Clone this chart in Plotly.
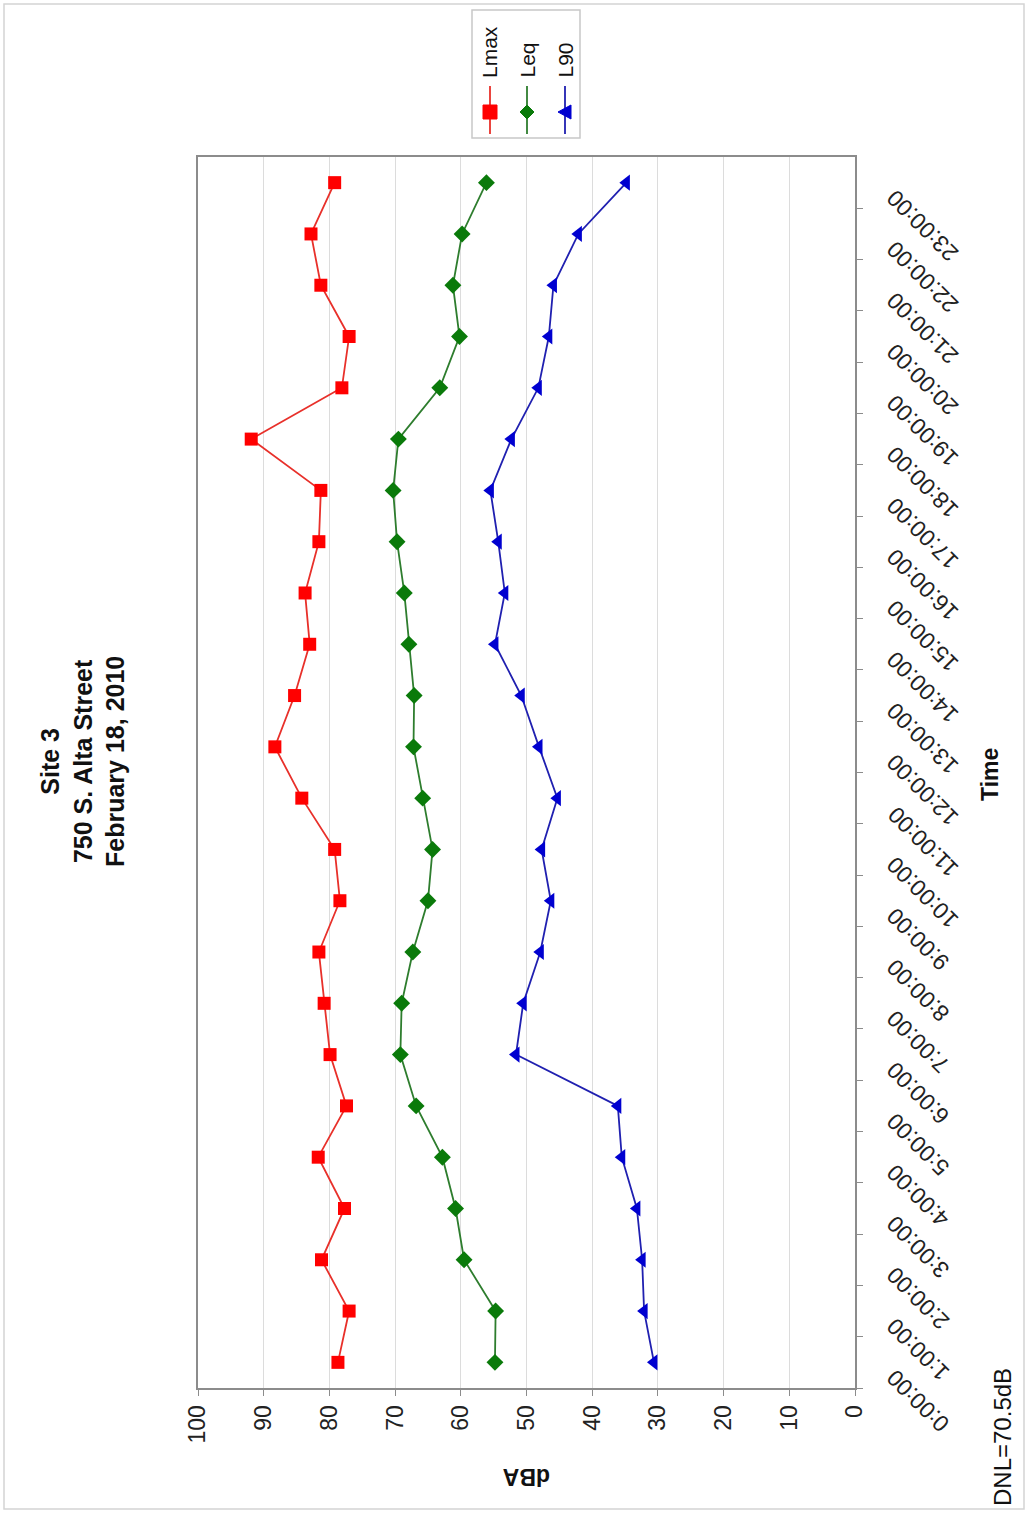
import plotly.graph_objects as go

# hourly noise levels, Site 3
hours = list(range(24))
hour_labels = [f"{h}:00:00" for h in hours]

lmax = [78.7, 77.0, 81.2, 77.7, 81.7, 77.4, 79.9, 80.8, 81.6, 78.4, 79.2, 84.2,
        88.3, 85.3, 83.0, 83.7, 81.6, 81.3, 91.9, 78.1, 77.0, 81.3, 82.8, 79.2]
leq = [54.8, 54.7, 59.5, 60.8, 62.8, 66.8, 69.2, 69.0, 67.3, 65.0, 64.3, 65.8,
       67.2, 67.1, 67.9, 68.6, 69.7, 70.3, 69.5, 63.2, 60.2, 61.2, 59.8, 56.1]
l90 = [30.6, 32.1, 32.4, 33.2, 35.5, 36.1, 51.6, 50.5, 47.9, 46.3, 47.7, 45.3,
       48.1, 50.8, 54.8, 53.3, 54.3, 55.5, 52.3, 48.2, 46.6, 45.9, 42.1, 34.8]

dba_ticks = list(range(0, 101, 10))

# points sit between the hour ticks (excel category style)
mid = [h + 0.5 for h in hours]
# pad single digit hours with a figure space so the label ends line up at the axis
tick_text = [("\u2007" + s) if len(s) < 8 else s for s in hour_labels]

W, H = 1028, 1513
L, R, T, B = 198, 855, 157, 1388


def xp(px):
    return (px - L) / (R - L)


def yp(py):
    return (B - py) / (B - T)


FONT = "Liberation Sans, Arial, sans-serif"

series = [
    ("Lmax", lmax, "#ff0000", "#e8302a", "square", 13),
    ("Leq", leq, "#0a7a0a", "#2e7d2e", "diamond", 13),
    ("L90", l90, "#0000d0", "#2020b0", "triangle-left", 14),
]

fig = go.Figure()
for name, vals, mcol, lcol, sym, sz in series:
    fig.add_trace(go.Scatter(
        x=vals, y=mid, mode="lines+markers", name=name,
        line=dict(color=lcol, width=1.8),
        marker=dict(symbol=sym, size=sz, color=mcol),
        showlegend=False,
    ))

fig.update_xaxes(
    range=[100, 0], tickvals=dba_ticks, tickangle=-90,
    showgrid=True, gridcolor="#dcdcdc", gridwidth=1,
    showline=True, linecolor="#8c8c8c", linewidth=2, mirror=True,
    ticks="outside", ticklen=6, tickcolor="#8c8c8c",
    tickfont=dict(family=FONT, size=23, color="#222"),
    zeroline=False,
)
fig.update_yaxes(
    range=[0, 24], side="right", tickvals=hours, ticktext=tick_text,
    tickangle=-135, showgrid=False,
    ticklabelstandoff=84, ticklabelshift=55,
    showline=True, linecolor="#8c8c8c", linewidth=2, mirror=True,
    ticks="outside", ticklen=6, tickcolor="#8c8c8c",
    tickfont=dict(family=FONT, size=23, color="#222"),
    zeroline=False,
)

ann = [
    dict(x=xp(82), y=yp(762), text="<b>Site 3<br>750 S. Alta Street<br>February 18, 2010</b>",
         textangle=-90, font=dict(size=25)),
    dict(x=xp(990), y=yp(775), text="<b>Time</b>", textangle=-90, font=dict(size=23)),
    dict(x=xp(527), y=yp(1477), text="<b>dBA</b>", textangle=180, font=dict(size=23)),
    dict(x=xp(1003), y=yp(1437), text="DNL=70.5dB", textangle=-90, font=dict(size=24)),
]
for a in ann:
    a.update(xref="paper", yref="paper", showarrow=False,
             xanchor="center", yanchor="middle")
    a["font"].update(family=FONT, color="#111")
    fig.add_annotation(**a)

# hand-made legend, rotated like the rest of the chart
shapes = [
    dict(type="rect", xref="paper", yref="paper", x0=xp(4), x1=xp(1024),
         y0=yp(1509), y1=yp(4), line=dict(color="#d4d4d4", width=1.5)),
    dict(type="rect", xref="paper", yref="paper", x0=xp(472), x1=xp(580),
         y0=yp(138), y1=yp(10), line=dict(color="#c8c8c8", width=1.5)),
]
legend_x = [490, 527, 565]
paths = {
    "square": "M -7,-7 H 7 V 7 H -7 Z",
    "diamond": "M 0,-7 L 7,0 L 0,7 L -7,0 Z",
    "triangle-left": "M -7,0 L 6,-7 L 6,7 Z",
}
for (name, vals, mcol, lcol, sym, sz), lx in zip(series, legend_x):
    shapes.append(dict(type="line", xref="paper", yref="paper",
                       x0=xp(lx), x1=xp(lx), y0=yp(86), y1=yp(134),
                       line=dict(color=lcol, width=1.8)))
    shapes.append(dict(type="path", xref="paper", yref="paper",
                       xsizemode="pixel", ysizemode="pixel",
                       xanchor=xp(lx), yanchor=yp(112), path=paths[sym],
                       fillcolor=mcol, line=dict(color=mcol, width=1)))
    fig.add_annotation(x=xp(lx), y=yp(80), xref="paper", yref="paper",
                       text=name, textangle=-90, showarrow=False,
                       xanchor="center", yanchor="bottom",
                       font=dict(family=FONT, size=21, color="#111"))

fig.update_layout(
    width=W, height=H,
    margin=dict(l=L, r=W - R, t=T, b=H - B),
    paper_bgcolor="white", plot_bgcolor="white",
    shapes=shapes,
)

# drop the default 8px page margin so the figure fills the window
fig.write_html("out.html", config={"displayModeBar": False},
               post_script="document.body.style.margin='0';")
